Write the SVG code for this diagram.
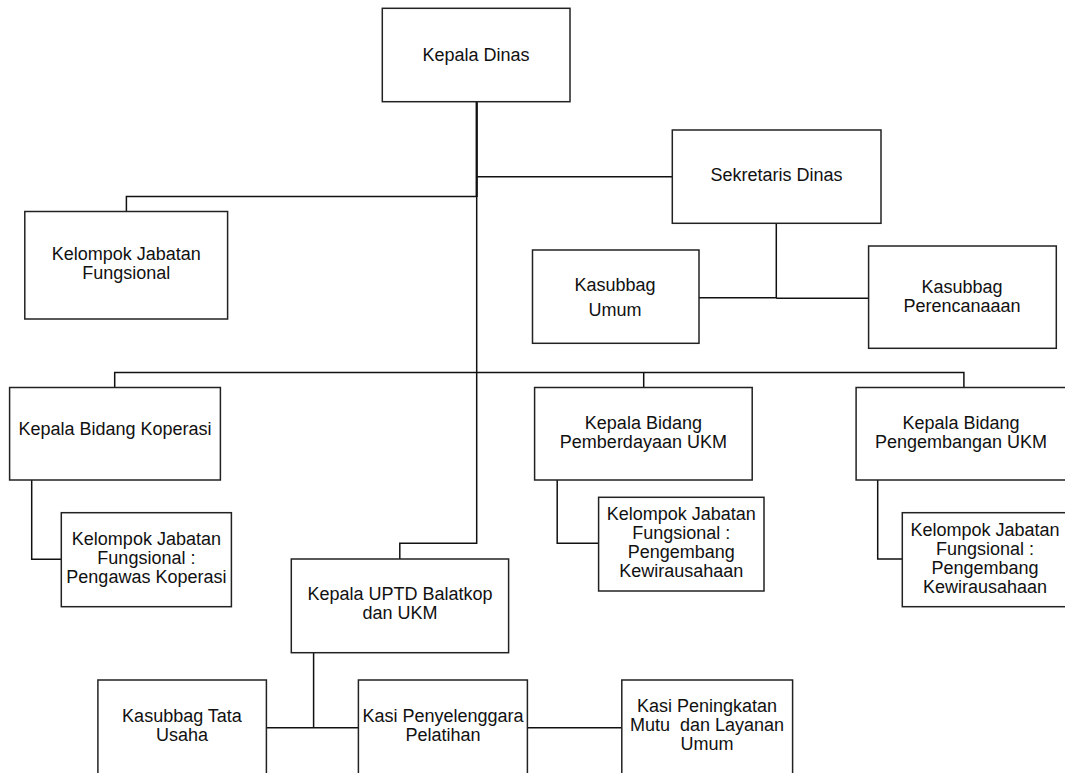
<svg xmlns="http://www.w3.org/2000/svg" width="1065" height="773" viewBox="0 0 1065 773">
<style>
rect.box{fill:#fff;stroke:#222;stroke-width:1.5}
text{font-family:"Liberation Sans",Arial,sans-serif;font-size:18px;fill:#111;text-anchor:middle}
.conn path{fill:none;stroke:#111;stroke-width:1.5}
</style>
<rect width="1065" height="773" fill="#fff"/>
<g class="conn" id="connectors">
<path d="M476.7 102V543.3H399.8V559"/>
<path d="M476.7 102V197" style="stroke-width:2.2"/>
<path d="M476.7 176.7H672.3"/>
<path d="M476.7 196.5H126.4V211.5"/>
<path d="M776.3 223.3V297.7M699 297.7H776.3M776.3 298.3H868.6"/>
<path d="M114.7 387.5V372.5H963.9V387.5M643.7 372.5V387.5"/>
<path d="M31.7 480V559.3H61.3"/>
<path d="M557.2 480V543.3H598.6"/>
<path d="M877.7 480V559H902.3"/>
<path d="M313.6 652.7V727.7M266.4 727.7H358.4M527.4 727.7H621.8"/>
</g>
<g id="kepala-dinas"><rect class="box" x="382.3" y="8.3" width="187.7" height="93.4"/><text x="476" y="61">Kepala Dinas</text></g>
<g id="sekretaris"><rect class="box" x="672.3" y="130" width="208.7" height="93.3"/><text x="776.5" y="181">Sekretaris Dinas</text></g>
<g id="kjf"><rect class="box" x="24.8" y="211.5" width="202.8" height="107.5"/><text x="126.2" y="260">Kelompok Jabatan</text><text x="126.2" y="279">Fungsional</text></g>
<g id="kasubbag-umum"><rect class="box" x="532.5" y="250" width="166.5" height="93.3"/><text x="615" y="290.5">Kasubbag</text><text x="615" y="316">Umum</text></g>
<g id="kasubbag-perencanaan"><rect class="box" x="868.6" y="246" width="187.7" height="102.3"/><text x="962" y="293">Kasubbag</text><text x="962" y="311.5">Perencanaaan</text></g>
<g id="bidang-koperasi"><rect class="box" x="9.6" y="387.5" width="210.8" height="92.5"/><text x="115" y="435">Kepala Bidang Koperasi</text></g>
<g id="kjf-pengawas"><rect class="box" x="61.3" y="512.7" width="170.1" height="94"/><text x="146.4" y="545">Kelompok Jabatan</text><text x="146.4" y="564">Fungsional :</text><text x="146.4" y="583">Pengawas Koperasi</text></g>
<g id="uptd"><rect class="box" x="291.3" y="559" width="217.3" height="93.7"/><text x="400" y="600">Kepala UPTD Balatkop</text><text x="400" y="619">dan UKM</text></g>
<g id="bidang-pemberdayaan"><rect class="box" x="534.6" y="387.5" width="217.6" height="92.5"/><text x="643.4" y="429">Kepala Bidang</text><text x="643.4" y="448">Pemberdayaan UKM</text></g>
<g id="kjf-pemberdayaan"><rect class="box" x="598.6" y="497.3" width="165.4" height="93.7"/><text x="681.3" y="520">Kelompok Jabatan</text><text x="681.3" y="539">Fungsional :</text><text x="681.3" y="558">Pengembang</text><text x="681.3" y="577">Kewirausahaan</text></g>
<g id="bidang-pengembangan"><rect class="box" x="856.1" y="387.5" width="210" height="92.5"/><text x="961" y="429">Kepala Bidang</text><text x="961" y="448">Pengembangan UKM</text></g>
<g id="kjf-pengembangan"><rect class="box" x="902.3" y="512.7" width="166" height="94"/><text x="985" y="536">Kelompok Jabatan</text><text x="985" y="555">Fungsional :</text><text x="985" y="574">Pengembang</text><text x="985" y="593">Kewirausahaan</text></g>
<g id="kasubbag-tu"><rect class="box" x="97.9" y="680" width="168.5" height="110"/><text x="182" y="722">Kasubbag Tata</text><text x="182" y="741">Usaha</text></g>
<g id="kasi-penyelenggara"><rect class="box" x="358.4" y="680" width="169" height="110"/><text x="443" y="722">Kasi Penyelenggara</text><text x="443" y="741">Pelatihan</text></g>
<g id="kasi-peningkatan"><rect class="box" x="621.8" y="680" width="170.8" height="110"/><text x="707" y="712">Kasi Peningkatan</text><text x="707" y="731" xml:space="preserve">Mutu  dan Layanan</text><text x="707" y="750">Umum</text></g>
</svg>
